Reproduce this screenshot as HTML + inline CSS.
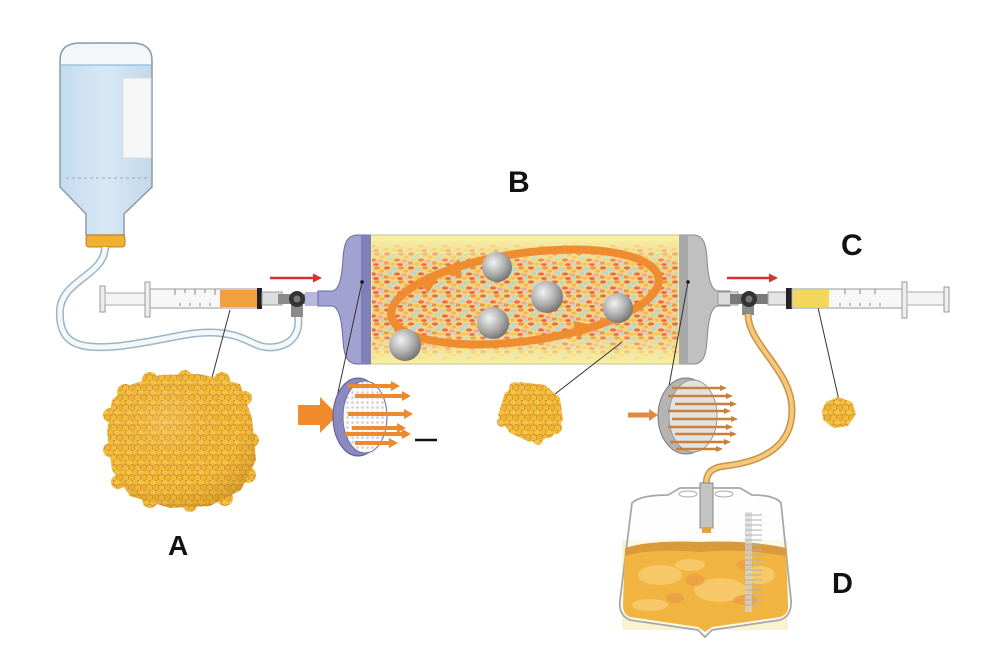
<!DOCTYPE html>
<html><head><meta charset="utf-8"><style>
html,body{margin:0;padding:0;background:#fff;}
svg{display:block;}
text{font-family:"Liberation Sans",sans-serif;font-weight:bold;fill:#111;}
</style></head><body>
<svg width="1000" height="656" viewBox="0 0 1000 656" xmlns="http://www.w3.org/2000/svg">
<defs>
<linearGradient id="bottleG" x1="0" y1="0" x2="1" y2="0">
<stop offset="0" stop-color="#c4dbef"/><stop offset="0.5" stop-color="#d8e8f5"/><stop offset="1" stop-color="#c2d8ea"/>
</linearGradient>
<radialGradient id="ball" cx="0.38" cy="0.35" r="0.7">
<stop offset="0" stop-color="#f2f2f2"/><stop offset="0.6" stop-color="#a9a9a9"/><stop offset="1" stop-color="#6e6e6e"/>
</radialGradient>
<pattern id="sp" width="24" height="14" patternUnits="userSpaceOnUse">
<rect width="24" height="14" fill="#f2d286"/>
<ellipse cx="3" cy="2" rx="3" ry="1.6" fill="#e8604c"/>
<ellipse cx="10" cy="3" rx="3" ry="1.6" fill="#a9d6e6"/>
<ellipse cx="17" cy="2" rx="3" ry="1.6" fill="#f08f40"/>
<ellipse cx="22" cy="5" rx="2.5" ry="1.5" fill="#f5b53a"/>
<ellipse cx="6" cy="7" rx="3" ry="1.6" fill="#a9d6e6"/>
<ellipse cx="13" cy="8" rx="3" ry="1.6" fill="#e8604c"/>
<ellipse cx="20" cy="9" rx="3" ry="1.6" fill="#f3a0a0"/>
<ellipse cx="2" cy="11" rx="3" ry="1.6" fill="#f08f40"/>
<ellipse cx="9" cy="12" rx="3" ry="1.6" fill="#f0c040"/>
<ellipse cx="16" cy="12.5" rx="3" ry="1.5" fill="#e8604c"/>
<ellipse cx="23" cy="12" rx="2" ry="1.5" fill="#a9d6e6"/>
</pattern>
<linearGradient id="fadeG" x1="0" y1="0" x2="0" y2="1">
<stop offset="0" stop-color="#fff" stop-opacity="0"/>
<stop offset="0.22" stop-color="#fff" stop-opacity="0.95"/>
<stop offset="0.75" stop-color="#fff" stop-opacity="0.95"/>
<stop offset="1" stop-color="#fff" stop-opacity="0"/>
</linearGradient>
<mask id="fadeM"><rect x="370" y="240" width="310" height="122" fill="url(#fadeG)"/></mask>
<pattern id="sc" width="12" height="10" patternUnits="userSpaceOnUse">
<rect width="12" height="10" fill="#d6962a"/>
<circle cx="3" cy="3" r="3.6" fill="#f2bb3a" stroke="#c88a20" stroke-width="0.6"/>
<circle cx="9" cy="3" r="3.6" fill="#f5c445" stroke="#c88a20" stroke-width="0.6"/>
<circle cx="0" cy="8" r="3.6" fill="#eeb234" stroke="#c88a20" stroke-width="0.6"/>
<circle cx="6" cy="8" r="3.6" fill="#f3bd3c" stroke="#c88a20" stroke-width="0.6"/>
<circle cx="12" cy="8" r="3.6" fill="#eeb234" stroke="#c88a20" stroke-width="0.6"/>
<circle cx="7" cy="5" r="0.8" fill="#d88090"/>
</pattern>
<radialGradient id="shade" cx="0.4" cy="0.35" r="0.7">
<stop offset="0" stop-color="#fff" stop-opacity="0.15"/><stop offset="0.7" stop-color="#b07010" stop-opacity="0"/><stop offset="1" stop-color="#a06010" stop-opacity="0.3"/>
</radialGradient>
<pattern id="dots" width="5" height="5" patternUnits="userSpaceOnUse">
<rect width="5" height="5" fill="#fbfbfb"/><circle cx="2.5" cy="2.5" r="1.3" fill="#cfcfd8"/>
</pattern>
</defs>

<!-- Bottle -->
<path d="M60,60 Q60,43 80,43 L132,43 Q152,43 152,60 L152,187 L124,214 L124,235 L86,235 L86,214 L60,187 Z" fill="url(#bottleG)" stroke="#8d9ba6" stroke-width="1.5"/>
<path d="M61,60 Q61,44 80,44 L132,44 Q151,44 151,60 L151,65 L61,65 Z" fill="#f4f7fa"/>
<line x1="61" y1="65" x2="151" y2="65" stroke="#9ec4e0" stroke-width="1.5"/>
<rect x="123" y="78" width="28" height="80" fill="#f7f7f7" stroke="#d8dde2"/>
<line x1="66" y1="178" x2="147" y2="178" stroke="#9aaab6" stroke-dasharray="3,3"/>
<rect x="86" y="235" width="39" height="12" rx="3" fill="#f0b030" stroke="#c08020"/>

<!-- Left tube -->
<path d="M105,247 C105,275 62,280 60,310 C58,345 80,350 120,346 C170,340 190,330 220,333 C250,336 255,350 275,347 C295,344 300,330 298,316" fill="none" stroke="#9db4c4" stroke-width="8"/>
<path d="M105,247 C105,275 62,280 60,310 C58,345 80,350 120,346 C170,340 190,330 220,333 C250,336 255,350 275,347 C295,344 300,330 298,316" fill="none" stroke="#f4f8fb" stroke-width="5"/>

<!-- Left syringe -->
<rect x="100" y="286" width="5" height="26" fill="#eee" stroke="#999"/>
<rect x="105" y="293" width="41" height="12" fill="#f4f4f4" stroke="#aaa"/>
<rect x="145" y="282" width="5" height="35" fill="#eee" stroke="#999"/>
<rect x="150" y="289" width="108" height="19" fill="#f7f7f7" stroke="#999"/>
<g stroke="#888" stroke-width="1">
<line x1="175" y1="289" x2="175" y2="295"/><line x1="185" y1="289" x2="185" y2="293"/><line x1="195" y1="289" x2="195" y2="295"/><line x1="205" y1="289" x2="205" y2="293"/><line x1="215" y1="289" x2="215" y2="295"/>
<line x1="180" y1="303" x2="180" y2="306"/><line x1="190" y1="303" x2="190" y2="306"/><line x1="200" y1="303" x2="200" y2="306"/><line x1="210" y1="303" x2="210" y2="306"/>
</g>
<rect x="220" y="290" width="37" height="17" fill="#f0a040"/>
<rect x="257" y="288" width="5" height="21" fill="#222"/>
<rect x="262" y="292" width="20" height="13" fill="#ddd" stroke="#999"/>
<rect x="278" y="294" width="40" height="10" fill="#8a8a8a"/>
<rect x="291" y="303" width="12" height="14" fill="#8a8a8a"/>
<circle cx="297" cy="299" r="8" fill="#333"/><circle cx="297" cy="299" r="3.5" fill="#777"/>
<rect x="305" y="292" width="15" height="14" fill="#b8b8dc"/>
<line x1="270" y1="278" x2="315" y2="278" stroke="#d93030" stroke-width="2.5"/>
<polygon points="322,278 313,273.5 313,282.5" fill="#d93030"/>

<!-- Cylinder -->
<rect x="368" y="235" width="314" height="129" fill="#f7efa0" stroke="#c9c2a0"/>
<rect x="372" y="240" width="306" height="122" fill="url(#sp)" mask="url(#fadeM)"/>
<path d="M318,291 L332,291 C340,290 342,275 343,258 C344,243 347,236 356,235 L370,235 L370,364 L356,364 C347,363 344,356 343,341 C342,324 340,307 332,306 L318,306 Z" fill="#a2a2d2" stroke="#6a6aa0"/>
<rect x="361" y="235" width="10" height="129" fill="#7f7fba"/>
<path d="M680,235 L695,235 C703,236 706,243 707,258 C708,275 710,290 718,291 L730,291 L730,306 L718,306 C710,307 708,324 707,341 C706,356 703,363 695,364 L680,364 Z" fill="#c0c0c0" stroke="#888"/>
<rect x="679" y="235" width="9" height="129" fill="#a9a9a9"/>
<circle cx="362" cy="282" r="1.8" fill="#111"/>
<circle cx="688" cy="282" r="1.8" fill="#111"/>

<!-- orange loop -->
<ellipse cx="525" cy="297" rx="135" ry="44" transform="rotate(-8 525 297)" fill="none" stroke="#f08c30" stroke-width="8"/>
<polygon points="442,273 459,259 462,278" fill="#f08c30"/>
<polygon points="592,325 573,321 578,339" fill="#f08c30"/>
<polygon points="438,278 420,282 428,293" fill="#f08c30"/>

<!-- balls -->
<circle cx="497" cy="267" r="15" fill="url(#ball)"/>
<circle cx="547" cy="297" r="16" fill="url(#ball)"/>
<circle cx="493" cy="323" r="16" fill="url(#ball)"/>
<circle cx="618" cy="308" r="15" fill="url(#ball)"/>
<circle cx="405" cy="345" r="16" fill="url(#ball)"/>

<!-- pointer lines -->
<line x1="362" y1="282" x2="337" y2="397" stroke="#333" stroke-width="1"/>
<line x1="688" y1="282" x2="667" y2="397" stroke="#333" stroke-width="1"/>
<line x1="622" y1="342" x2="537" y2="408" stroke="#333" stroke-width="1"/>
<line x1="230" y1="310" x2="202" y2="415" stroke="#333" stroke-width="1"/>
<line x1="817" y1="303" x2="840" y2="405" stroke="#333" stroke-width="1"/>

<!-- Left disc -->
<polygon points="298,405 320,405 320,397 338,415 320,433 320,425 298,425" fill="#f08a2a"/>
<ellipse cx="358" cy="417" rx="25" ry="39" fill="#8a8ac0" stroke="#5a5a90"/>
<ellipse cx="365" cy="417" rx="22" ry="36" fill="url(#dots)" stroke="#7070a8"/>
<g stroke="#ec8a30" stroke-width="4">
<line x1="348" y1="386" x2="392" y2="386"/><line x1="355" y1="396" x2="403" y2="396"/><line x1="348" y1="414" x2="405" y2="414"/><line x1="352" y1="428" x2="398" y2="428"/><line x1="345" y1="434" x2="403" y2="434"/><line x1="355" y1="443" x2="390" y2="443"/>
</g>
<g fill="#ec8a30">
<polygon points="400,386 391,381 391,391"/><polygon points="411,396 402,391 402,401"/><polygon points="413,414 404,409 404,419"/><polygon points="406,428 397,423 397,433"/><polygon points="411,434 402,429 402,439"/><polygon points="398,443 389,438 389,448"/>
</g>
<line x1="415" y1="440" x2="437" y2="440" stroke="#111" stroke-width="2.5"/>

<!-- Right disc -->
<line x1="628" y1="415" x2="650" y2="415" stroke="#e08a40" stroke-width="5"/>
<polygon points="658,415 649,409 649,421" fill="#e08a40"/>
<ellipse cx="686" cy="416" rx="28" ry="38" fill="#b4b4b4" stroke="#777"/>
<ellipse cx="693" cy="416" rx="24" ry="36" fill="#e2e2e2" stroke="#999"/>
<g stroke="#c8803a" stroke-width="2.5">
<line x1="672" y1="388" x2="722" y2="388"/><line x1="668" y1="396" x2="728" y2="396"/><line x1="675" y1="404" x2="732" y2="404"/><line x1="668" y1="411" x2="726" y2="411"/><line x1="672" y1="419" x2="733" y2="419"/><line x1="668" y1="427" x2="728" y2="427"/><line x1="675" y1="434" x2="732" y2="434"/><line x1="670" y1="442" x2="726" y2="442"/><line x1="676" y1="449" x2="718" y2="449"/>
</g>
<g fill="#c8803a">
<polygon points="727,388 720,385 720,391"/><polygon points="733,396 726,393 726,399"/><polygon points="737,404 730,401 730,407"/><polygon points="731,411 724,408 724,414"/><polygon points="738,419 731,416 731,422"/><polygon points="733,427 726,424 726,430"/><polygon points="737,434 730,431 730,437"/><polygon points="731,442 724,439 724,445"/><polygon points="723,449 716,446 716,452"/>
</g>

<!-- Clusters -->
<g fill="url(#sc)">
<path d="M130,385 L160,375 L200,374 L240,384 L252,418 L256,460 L241,490 L210,506 L170,508 L130,496 L112,470 L107,432 L112,400 Z"/>
<circle cx="125" cy="392" r="8"/><circle cx="150" cy="380" r="8"/><circle cx="185" cy="377" r="7"/><circle cx="222" cy="380" r="8"/><circle cx="245" cy="398" r="7"/>
<circle cx="252" cy="440" r="7"/><circle cx="248" cy="475" r="8"/><circle cx="225" cy="498" r="8"/><circle cx="190" cy="505" r="7"/><circle cx="150" cy="500" r="8"/>
<circle cx="118" cy="482" r="7"/><circle cx="110" cy="450" r="7"/><circle cx="110" cy="415" r="7"/>
</g>
<path d="M130,385 L160,375 L200,374 L240,384 L252,418 L256,460 L241,490 L210,506 L170,508 L130,496 L112,470 L107,432 L112,400 Z" fill="url(#shade)"/>
<g fill="url(#sc)">
<path d="M505,393 L520,382 L545,385 L560,398 L563,420 L552,437 L530,442 L510,433 L498,415 Z"/>
<circle cx="515" cy="388" r="6"/><circle cx="556" cy="428" r="6"/><circle cx="502" cy="422" r="5"/><circle cx="538" cy="440" r="5"/>
</g>
<path d="M826,402 L838,397 L852,402 L856,414 L848,426 L834,428 L823,420 L822,410 Z" fill="url(#sc)"/>

<!-- Right syringe -->
<rect x="718" y="292" width="20" height="13" fill="#ddd" stroke="#999"/>
<rect x="730" y="294" width="40" height="10" fill="#7a7a7a"/>
<rect x="742" y="303" width="12" height="12" fill="#8a8a8a"/>
<circle cx="749" cy="299" r="8" fill="#333"/><circle cx="749" cy="299" r="3.5" fill="#777"/>
<rect x="768" y="292" width="19" height="13" fill="#e4e4e4" stroke="#999"/>
<rect x="786" y="288" width="6" height="21" fill="#222"/>
<rect x="792" y="289" width="110" height="19" fill="#f7f7f7" stroke="#999"/>
<rect x="793" y="290" width="36" height="17" fill="#f3d65a"/>
<g stroke="#888" stroke-width="1">
<line x1="840" y1="303" x2="840" y2="306"/><line x1="850" y1="303" x2="850" y2="306"/><line x1="860" y1="303" x2="860" y2="306"/><line x1="870" y1="303" x2="870" y2="306"/><line x1="880" y1="303" x2="880" y2="306"/>
<line x1="845" y1="289" x2="845" y2="294"/><line x1="860" y1="289" x2="860" y2="294"/><line x1="875" y1="289" x2="875" y2="294"/>
</g>
<rect x="902" y="282" width="5" height="36" fill="#eee" stroke="#999"/>
<rect x="907" y="292" width="38" height="13" fill="#f4f4f4" stroke="#aaa"/>
<rect x="944" y="287" width="5" height="25" fill="#eee" stroke="#999"/>
<line x1="727" y1="278" x2="771" y2="278" stroke="#d93030" stroke-width="2.5"/>
<polygon points="778,278 769,273.5 769,282.5" fill="#d93030"/>

<!-- Orange tube -->
<path d="M748,314 C748,345 792,370 792,410 C792,448 760,462 725,466 C708,468 706,476 706,486" fill="none" stroke="#c99444" stroke-width="7"/>
<path d="M748,314 C748,345 792,370 792,410 C792,448 760,462 725,466 C708,468 706,476 706,486" fill="none" stroke="#f6c87c" stroke-width="4"/>

<!-- Bag -->
<rect x="622" y="540" width="166" height="90" fill="#fbf3d0"/>
<path d="M632,503 Q640,495 668,495 L680,488 L740,488 L752,495 Q775,495 781,503 L791,600 Q792,616 780,620 L712,630 L705,637 L698,630 L630,620 Q618,615 620,600 Z" fill="#fdfdfd" fill-opacity="0.6" stroke="#a8a8a8" stroke-width="1.8"/>
<path d="M625,548 Q650,540 700,542 Q750,540 786,548 L788,605 Q789,614 780,617 L712,627 L705,632 L698,627 L630,617 Q623,614 623,605 Z" fill="#f2b440"/>
<path d="M625,548 Q650,540 700,542 Q750,540 786,548 L786,556 Q740,548 700,552 Q650,548 625,556 Z" fill="#d89a3a"/>
<g fill="#f7cd73" opacity="0.8">
<ellipse cx="660" cy="575" rx="22" ry="10"/><ellipse cx="720" cy="590" rx="26" ry="12"/><ellipse cx="690" cy="565" rx="15" ry="6"/><ellipse cx="760" cy="575" rx="15" ry="9"/><ellipse cx="650" cy="605" rx="18" ry="6"/>
</g>
<g fill="#eb9a48" opacity="0.7">
<ellipse cx="695" cy="580" rx="10" ry="6"/><ellipse cx="745" cy="600" rx="12" ry="5"/><ellipse cx="675" cy="598" rx="9" ry="5"/><ellipse cx="745" cy="565" rx="8" ry="5"/>
</g>
<ellipse cx="688" cy="494" rx="9" ry="3" fill="#fff" stroke="#aaa"/>
<ellipse cx="724" cy="494" rx="9" ry="3" fill="#fff" stroke="#aaa"/>
<rect x="745" y="512" width="7" height="100" fill="#d6d6d6" opacity="0.7"/>
<g stroke="#b0b0b0" stroke-width="1">
<line x1="745" y1="515" x2="762" y2="515"/><line x1="745" y1="520" x2="762" y2="520"/><line x1="745" y1="525" x2="762" y2="525"/><line x1="745" y1="530" x2="762" y2="530"/><line x1="745" y1="535" x2="762" y2="535"/><line x1="745" y1="540" x2="762" y2="540"/><line x1="745" y1="545" x2="762" y2="545"/><line x1="745" y1="550" x2="762" y2="550"/><line x1="745" y1="555" x2="762" y2="555"/><line x1="745" y1="560" x2="762" y2="560"/><line x1="745" y1="565" x2="762" y2="565"/><line x1="745" y1="570" x2="762" y2="570"/><line x1="745" y1="575" x2="762" y2="575"/><line x1="745" y1="580" x2="762" y2="580"/><line x1="745" y1="585" x2="762" y2="585"/><line x1="745" y1="590" x2="762" y2="590"/><line x1="745" y1="595" x2="762" y2="595"/><line x1="745" y1="600" x2="762" y2="600"/><line x1="745" y1="605" x2="762" y2="605"/>
</g>
<rect x="700" y="483" width="13" height="45" fill="#c4c4c4" stroke="#888"/>
<rect x="702" y="527" width="9" height="6" fill="#e8a040"/>

<!-- Labels -->
<text x="508" y="192" font-size="30">B</text>
<text x="841" y="255" font-size="30">C</text>
<text x="168" y="555" font-size="28">A</text>
<text x="832" y="593" font-size="29">D</text>
</svg>
</body></html>
